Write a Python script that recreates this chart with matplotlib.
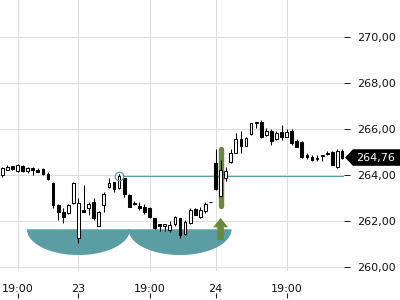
import matplotlib
matplotlib.use('Agg')
import matplotlib.pyplot as plt
import numpy as np
from matplotlib.patches import Polygon
from matplotlib.transforms import blended_transform_factory

opens = [263.98, 264.22, 264.39, 264.17, 264.40, 264.17, 264.30, 264.23, 264.25, 264.03,
         263.64, 262.70, 262.38, 262.33, 262.77, 261.25, 262.49, 262.55, 262.84, 261.80,
         262.70, 263.49, 263.68, 263.42, 263.86, 263.13, 262.80, 262.65, 262.60, 262.55,
         262.12, 261.86, 261.80, 261.61, 261.86, 262.12, 261.43, 261.90, 262.51, 262.16,
         262.45, 262.83, 264.51, 263.07, 263.86, 264.57, 264.97, 265.55, 265.27, 265.77,
         266.25, 266.32, 265.74, 265.91, 265.55, 265.88, 265.67, 265.93, 265.49, 265.42,
         264.87, 264.80, 264.71, 264.83, 264.93, 265.01, 264.33, 265.06]
highs = [264.33, 264.43, 264.41, 264.46, 264.43, 264.35, 264.36, 264.29, 264.30, 264.14,
         263.70, 262.74, 262.55, 262.74, 263.71, 263.01, 263.57, 262.84, 262.99, 262.43,
         263.27, 263.88, 263.71, 264.03, 263.88, 263.17, 262.89, 262.84, 262.74, 262.62,
         262.14, 261.87, 261.87, 262.01, 262.22, 262.14, 262.04, 262.55, 262.55, 262.62,
         262.84, 262.84, 265.12, 264.67, 264.33, 265.12, 265.84, 265.93, 265.67, 266.27,
         266.29, 266.39, 266.03, 265.99, 265.91, 266.17, 265.99, 265.99, 265.55, 265.48,
         264.97, 264.87, 264.87, 264.87, 265.06, 265.06, 265.12, 265.12]
lows = [263.93, 264.20, 264.20, 264.15, 264.12, 264.07, 264.00, 264.13, 264.02, 263.80,
        262.55, 262.04, 261.93, 262.30, 262.74, 261.03, 262.39, 262.26, 262.04, 261.78,
        262.40, 263.42, 263.27, 263.39, 263.06, 262.61, 262.70, 262.48, 262.30, 262.13,
        261.65, 261.58, 261.58, 261.53, 261.78, 261.27, 261.39, 261.87, 262.24, 262.12,
        262.36, 262.82, 263.35, 263.04, 263.75, 264.51, 264.96, 264.97, 265.26, 265.74,
        266.03, 265.60, 265.70, 265.30, 265.52, 265.52, 265.65, 265.30, 265.22, 264.75,
        264.70, 264.62, 264.62, 264.62, 264.87, 264.43, 264.29, 264.70]
closes = [264.29, 264.35, 264.26, 264.43, 264.17, 264.29, 264.22, 264.14, 264.04, 263.81,
          262.70, 262.40, 262.19, 262.70, 263.64, 262.80, 262.40, 262.73, 262.12, 262.38,
          263.16, 263.64, 263.38, 263.97, 263.16, 262.62, 262.73, 262.55, 262.40, 262.16,
          261.68, 261.80, 261.86, 261.83, 262.16, 261.39, 261.94, 262.48, 262.26, 262.48,
          262.73, 262.83, 263.38, 264.22, 264.19, 264.94, 265.55, 265.26, 265.60, 266.25,
          266.29, 265.67, 265.91, 265.49, 265.84, 265.64, 265.88, 265.38, 265.23, 264.80,
          264.80, 264.65, 264.75, 264.87, 264.97, 264.43, 265.04, 264.76]

xtick_pos = [3, 15, 29, 42, 56]
xtick_labels = ['19:00', '23', '19:00', '24', '19:00']
ytick_vals = [260, 262, 264, 266, 268, 270]

pattern_centers = [15, 35]
pattern_top = 261.64
pattern_depth = 1.12
pattern_halfwidth = 10.15

signal_idx = 43
signal_top = 265.12
signal_bottom = 262.65
arrow_tip = 262.13
arrow_head_base = 261.73
arrow_bottom = 261.17

level_idx = 23
level_value = 263.97

TEAL = '#5a9ea4'
OLIVE = '#6c8a3c'

fig = plt.figure(figsize=(4, 3), dpi=100)
ax = fig.add_axes([0, 29 / 300, 344 / 400, 271 / 300])
ax.set_xlim(-0.45, 67.3)
ax.set_ylim(259.826, 271.609)

for s in ax.spines.values():
    s.set_visible(False)
ax.grid(True, color='#dddddd', linewidth=0.75)
ax.set_axisbelow(True)

ax.set_xticks(xtick_pos)
ax.set_xticklabels(xtick_labels)
ax.tick_params(axis='x', length=0, pad=9, labelsize=8, labelcolor='#111111')
ax.yaxis.tick_right()
ax.set_yticks(ytick_vals)
ax.set_yticklabels([f"{v:.2f}".replace('.', ',') for v in ytick_vals])
ax.tick_params(axis='y', length=4.3, width=0.75, pad=5, labelsize=8,
               color='#222222', labelcolor='#111111')

sec = ax.secondary_xaxis(-0.0996)
sec.set_xticks(xtick_pos)
sec.tick_params(direction='in', length=3.6, width=0.8, color='#222222', labelbottom=False)
for s in sec.spines.values():
    s.set_visible(False)

# pattern half-ellipses
t = np.linspace(np.pi, 2 * np.pi, 120)
for c in pattern_centers:
    px = c + pattern_halfwidth * np.cos(t)
    py = pattern_top + pattern_depth * np.sin(t)
    ax.add_patch(Polygon(np.column_stack([px, py]), closed=True, facecolor=TEAL,
                         edgecolor='none', zorder=1.5))

# signal bar
ax.plot([signal_idx, signal_idx], [signal_top, signal_bottom], color=OLIVE, lw=3.9,
        solid_capstyle='round', zorder=2)

# arrow
hw, sw = 1.48, 0.65
arrow_pts = [(signal_idx, arrow_tip), (signal_idx + hw, arrow_head_base),
             (signal_idx + sw, arrow_head_base), (signal_idx + sw, arrow_bottom),
             (signal_idx - sw, arrow_bottom), (signal_idx - sw, arrow_head_base),
             (signal_idx - hw, arrow_head_base)]
ax.add_patch(Polygon(arrow_pts, closed=True, facecolor=OLIVE, edgecolor='none', zorder=5))

# candles
idx = np.arange(len(opens))
o = np.array(opens); h = np.array(highs); l = np.array(lows); c = np.array(closes)
ax.vlines(idx, l, h, color='black', linewidth=0.75, zorder=3)
up = c >= o
bottoms = np.minimum(o, c)
heights = np.maximum(np.abs(c - o), 0.005)
ax.bar(idx, heights, bottom=bottoms, width=0.55,
       color=np.where(up, 'white', 'black'), edgecolor='black', linewidth=0.75, zorder=4)

# level line and circle
ax.plot([level_idx + 0.85, 67.3], [level_value, level_value], color=TEAL, lw=0.8, zorder=3.5)
ax.plot([level_idx], [level_value], marker='o', markersize=6.2, fillstyle='none',
        markeredgecolor=TEAL, markeredgewidth=0.9, zorder=5)

# price tag
tr = blended_transform_factory(ax.transAxes, ax.transData)
last_price = closes[-1]
half = 0.36
tag = [(1.003, last_price), (1.026, last_price + half), (1.17, last_price + half),
       (1.17, last_price - half), (1.026, last_price - half)]
ax.add_patch(Polygon(tag, closed=True, facecolor='black', edgecolor='none',
                     transform=tr, clip_on=False, zorder=6))
ax.text(1.093, last_price, f"{last_price:.2f}".replace('.', ','), transform=tr,
        color='white', fontsize=8, ha='center', va='center', zorder=7, clip_on=False)

fig.savefig('out.png', dpi=100)
